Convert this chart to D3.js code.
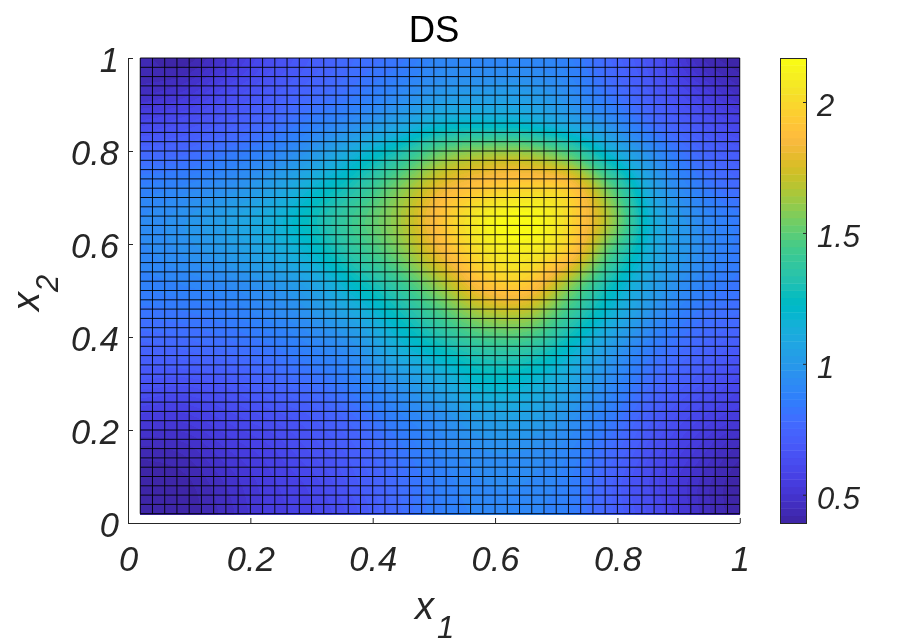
<!DOCTYPE html>
<html><head><meta charset="utf-8">
<script src="https://cdn.jsdelivr.net/npm/d3@7"></script>
<style>
html,body{margin:0;padding:0;background:#fff}
#wrap{position:relative;width:911px;height:644px;overflow:hidden}
canvas,svg{position:absolute;left:0;top:0}
text{font-family:"Liberation Sans",Arial,sans-serif;fill:#262626}
</style></head><body><div id="wrap"><canvas id="field" width="911" height="644"></canvas><svg id="chart" width="911" height="644"></svg></div>
<script>
const title = "DS";
const xTicks = [0,0.2,0.4,0.6,0.8,1];
const yTicks = [0,0.2,0.4,0.6,0.8,1];
const cbTicks = [0.5,1,1.5,2];
const valueRange = [0.392,2.168];
const meshCoords = d3.range(1,51).map(i=>i/50);
const sampleX = [.02,.09,.16,.23,.30,.37,.44,.51,.58,.65,.72,.79,.86,.93,1];
const sampleY = [1,.93,.86,.79,.72,.65,.58,.51,.44,.37,.30,.23,.16,.09,.02];
const values = [
[.43,.40,.50,.62,.70,.78,.82,.90,.90,.90,.87,.75,.64,.46,.40],
[.46,.50,.60,.68,.75,.82,.90,.98,1.0,1.0,.93,.80,.68,.56,.46],
[.60,.64,.70,.77,.86,.94,1.05,1.17,1.2,1.18,1.07,.94,.78,.67,.58],
[.77,.78,.84,.90,1.0,1.15,1.32,1.55,1.65,1.65,1.5,1.18,.94,.78,.70],
[.87,.90,.95,1.03,1.17,1.32,1.55,1.8,1.92,1.97,1.92,1.5,1.05,.87,.77],
[.92,.97,1.04,1.13,1.26,1.43,1.62,1.9,2.1,2.17,2.0,1.62,1.13,.94,.85],
[.91,.95,1.0,1.08,1.19,1.36,1.54,1.82,2.03,2.08,1.92,1.45,1.1,.95,.85],
[.87,.89,.92,.97,1.05,1.22,1.38,1.62,1.88,1.92,1.6,1.26,1.03,.9,.82],
[.81,.82,.85,.90,.96,1.07,1.24,1.42,1.6,1.62,1.38,1.14,.94,.82,.77],
[.73,.75,.78,.82,.88,.95,1.12,1.24,1.35,1.35,1.2,1.0,.84,.75,.68],
[.66,.65,.68,.74,.79,.87,.97,1.08,1.2,1.18,1.07,.92,.77,.68,.60],
[.55,.55,.60,.65,.70,.78,.88,.95,1.04,1.05,.97,.85,.70,.60,.54],
[.44,.46,.53,.58,.65,.72,.82,.90,.95,.95,.90,.78,.64,.53,.44],
[.40,.41,.48,.55,.60,.69,.78,.87,.92,.92,.87,.73,.60,.48,.40],
[.41,.40,.46,.54,.58,.66,.77,.86,.90,.90,.86,.73,.62,.48,.40]
];
const parula = [[.2422,.1504,.6603],[.2504,.1650,.7076],[.2578,.1818,.7511],[.2647,.1978,.7952],[.2706,.2147,.8364],[.2751,.2342,.8710],[.2783,.2559,.8991],[.2803,.2782,.9221],[.2813,.3006,.9414],[.2810,.3228,.9579],[.2795,.3447,.9717],[.2760,.3667,.9829],[.2699,.3892,.9906],[.2602,.4123,.9952],[.2440,.4358,.9988],[.2206,.4603,.9973],[.1963,.4847,.9892],[.1834,.5074,.9798],[.1786,.5289,.9682],[.1764,.5499,.9520],[.1687,.5703,.9359],[.1540,.5902,.9218],[.1460,.6091,.9079],[.1380,.6276,.8973],[.1248,.6459,.8883],[.1113,.6635,.8763],[.0952,.6798,.8598],[.0689,.6948,.8394],[.0297,.7082,.8163],[.0036,.7203,.7917],[.0067,.7312,.7660],[.0433,.7411,.7394],[.0964,.7500,.7120],[.1408,.7584,.6842],[.1717,.7670,.6554],[.1938,.7758,.6251],[.2161,.7843,.5923],[.2470,.7918,.5567],[.2906,.7973,.5188],[.3406,.8008,.4789],[.3909,.8029,.4354],[.4456,.8024,.3909],[.5044,.7993,.3480],[.5616,.7942,.3045],[.6174,.7876,.2612],[.6720,.7793,.2227],[.7242,.7698,.1910],[.7738,.7598,.1646],[.8203,.7498,.1535],[.8634,.7406,.1596],[.9035,.7330,.1774],[.9393,.7288,.2100],[.9728,.7298,.2394],[.9956,.7434,.2371],[.9970,.7659,.2199],[.9952,.7893,.2028],[.9892,.8136,.1885],[.9786,.8386,.1766],[.9676,.8639,.1643],[.9610,.8890,.1537],[.9597,.9135,.1423],[.9628,.9373,.1265],[.9691,.9606,.1064],[.9769,.9839,.0805]];

const colours = parula.map(c=>d3.rgb(c[0]*255,c[1]*255,c[2]*255).formatHex());
const colour = d3.scaleQuantize().domain(valueRange).range(colours);
const x = d3.scaleLinear().domain([0,1]).range([128,739.75]);
const y = d3.scaleLinear().domain([0,1]).range([523,58]);
const cb = d3.scaleLinear().domain(valueRange).range([523,58]);
const svg = d3.select("#chart");
const FONT='"Liberation Sans",Arial,sans-serif';

// smooth (interp-shaded) surface between the values
function cr(p0,p1,p2,p3,t){return .5*((2*p1)+(-p0+p2)*t+(2*p0-5*p1+4*p2-p3)*t*t+(-p0+3*p1-3*p2+p3)*t*t*t);}
const at=(a,i)=>a[Math.max(0,Math.min(a.length-1,i))];
const xIdx=d3.scaleLinear().domain(d3.extent(sampleX)).range([0,sampleX.length-1]);
const yIdx=d3.scaleLinear().domain([sampleY[0],sampleY[sampleY.length-1]]).range([0,sampleY.length-1]);
function field(u,v){
  const fx=xIdx(u),fy=yIdx(v),ix=Math.max(0,Math.min(Math.floor(fx),sampleX.length-2)),iy=Math.max(0,Math.min(Math.floor(fy),sampleY.length-2));
  const r=[-1,0,1,2].map(d=>{const row=at(values,iy+d);return cr(at(row,ix-1),at(row,ix),at(row,ix+1),at(row,ix+2),fx-ix);});
  return cr(r[0],r[1],r[2],r[3],fy-iy);
}
const ctx=document.getElementById("field").getContext("2d");
const px0=Math.round(x(.02)),px1=Math.ceil(x(1)),py0=Math.round(y(1)),py1=Math.round(y(.02))+1;
for(let py=py0;py<py1;py++)for(let px=px0;px<px1;px++){
  ctx.fillStyle=colour(field(Math.min(1,Math.max(.02,x.invert(px+.5))),Math.min(1,Math.max(.02,y.invert(py+.5)))));
  ctx.fillRect(px,py,1,1);
}
// mesh
svg.append("g").selectAll("line.v").data(meshCoords).join("line").attr("class","v")
  .attr("x1",d=>x(d)).attr("x2",d=>x(d)).attr("y1",y(.02)).attr("y2",y(1))
  .attr("stroke","#000").attr("stroke-width",1).attr("stroke-opacity",.9);
svg.append("g").selectAll("line.h").data(meshCoords).join("line").attr("class","h")
  .attr("y1",d=>y(d)).attr("y2",d=>y(d)).attr("x1",x(.02)).attr("x2",x(1))
  .attr("stroke","#000").attr("stroke-width",1).attr("stroke-opacity",.9);

const fmt=d=>String(d);
const ax=svg.append("g").attr("transform",`translate(0,${y(0)})`)
  .call(d3.axisBottom(x).tickValues(xTicks).tickFormat(fmt).tickSizeInner(-5).tickSizeOuter(0).tickPadding(23.5));
const ay=svg.append("g").attr("transform",`translate(${x(0)},0)`)
  .call(d3.axisLeft(y).tickValues(yTicks).tickFormat(fmt).tickSizeInner(-5).tickSizeOuter(0).tickPadding(9));
[ax,ay].forEach(g=>{
  g.selectAll("path,line").attr("stroke","#262626").attr("stroke-width",1);
  g.selectAll("text").attr("font-size",34.5).attr("font-style","italic").attr("font-family",FONT).attr("fill","#262626");
});
ay.selectAll("text").attr("dy",".39em");
// colourbar
const bandH=(cb.range()[0]-cb.range()[1])/colours.length;
svg.append("g").selectAll("rect").data(colours).join("rect")
  .attr("x",780).attr("width",26.5).attr("y",(d,i)=>523-(i+1)*bandH).attr("height",bandH+.4).attr("fill",d=>d);
svg.append("rect").attr("x",780.5).attr("y",58.5).attr("width",26).attr("height",465)
  .attr("fill","none").attr("stroke","#262626").attr("stroke-width",1);
const ac=svg.append("g").attr("transform","translate(806,0)")
  .call(d3.axisRight(cb).tickValues(cbTicks).tickFormat(fmt).tickSizeInner(-3).tickSizeOuter(0).tickPadding(11));
ac.select("path").remove();
ac.selectAll("line").attr("stroke","#262626");
ac.selectAll("text").attr("font-size",31).attr("font-style","italic").attr("font-family",FONT).attr("fill","#262626").attr("dy",".45em");
// labels
svg.append("text").attr("x",434).attr("y",41.5).attr("text-anchor","middle").attr("font-size",36.5).style("fill","#000").text(title);
const xl=svg.append("text").attr("x",415).attr("y",618.5).attr("font-size",38).attr("font-style","italic");
xl.append("tspan").text("x");
xl.append("tspan").attr("dx",3).attr("dy",19).attr("font-size",31).text("1");
const yl=svg.append("text").attr("transform","translate(39,311) rotate(-90)").attr("font-size",38).attr("font-style","italic");
yl.append("tspan").text("x");
yl.append("tspan").attr("dy",19).attr("font-size",31).text("2");
</script></body></html>
